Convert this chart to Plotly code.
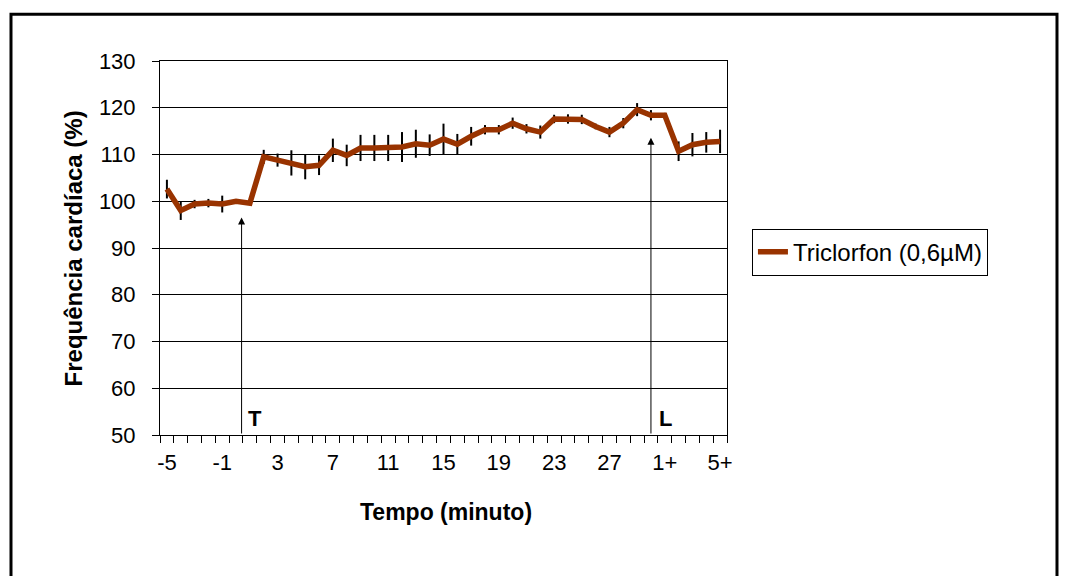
import plotly.graph_objects as go

categories = [str(i) for i in range(-5, 31)] + ["1+", "2+", "3+", "4+", "5+"]
heart_rate = [102.6, 98.0, 99.4, 99.6, 99.4, 100.0, 99.6, 109.5, 108.8, 108.2,
              107.4, 107.7, 110.9, 109.8, 111.4, 111.4, 111.4, 111.6, 112.3, 112.0,
              113.3, 112.2, 113.9, 115.3, 115.3, 116.7, 115.5, 114.8, 117.6, 117.6,
              117.5, 116.0, 114.8, 116.7, 119.6, 118.4, 118.4, 110.7, 112.1, 112.6, 112.8]
errors = [2.0, 2.0, 0.9, 0.9, 1.8, 0.3, 0.3, 1.5, 1.4, 2.7,
          2.7, 2.1, 2.5, 2.3, 2.8, 2.8, 2.8, 3.2, 3.0, 2.3,
          3.3, 2.2, 2.0, 1.0, 1.0, 1.2, 1.0, 1.4, 0.9, 1.0,
          1.0, 0.6, 1.1, 1.1, 1.4, 1.1, 0.5, 2.1, 2.5, 2.2, 2.5]
label_every = 4
y_ticks = list(range(50, 131, 10))
series_name = "Triclorfon (0,6µM)"

x_idx = list(range(len(categories)))
tick_idx = x_idx[::label_every]
tick_txt = [categories[i] for i in tick_idx]

FONT = "Liberation Sans, Arial, sans-serif"

fig = go.Figure()
fig.add_trace(go.Scatter(
    x=x_idx, y=heart_rate, mode="lines", name=series_name,
    line=dict(color="#993300", width=5.5),
    error_y=dict(type="data", array=errors, visible=True, color="black",
                 thickness=2, width=0),
))

# markers T and L
t_pos = categories.index("0") + 0.4
l_pos = categories.index("30")
arrows = [(t_pos, 96.5, "T", t_pos + 0.95), (l_pos, 113.6, "L", l_pos + 1.05)]
for xpos, tip, lab, lx in arrows:
    fig.add_annotation(x=xpos, y=tip, ax=xpos, ay=50, xref="x", yref="y",
                       axref="x", ayref="y", text="", showarrow=True,
                       arrowhead=2, arrowsize=1.4, arrowwidth=1, arrowcolor="black")
    fig.add_annotation(x=lx, y=53.6, xref="x", yref="y", text="<b>%s</b>" % lab,
                       showarrow=False, font=dict(family=FONT, size=22, color="black"))

fig.add_annotation(x=0.504, y=-0.246, xref="paper", yref="paper",
                   text="<b>Tempo (minuto)</b>", showarrow=False,
                   font=dict(family=FONT, size=23, color="black"))
fig.add_annotation(x=-0.18, y=0.5, xref="paper", yref="paper",
                   text="<b>Frequência cardíaca (%)</b>", showarrow=False, textangle=-90,
                   font=dict(family=FONT, size=24, color="black"))

fig.add_shape(type="rect", xref="paper", yref="paper",
              x0=-0.2628, x1=1.582, y0=-0.39, y1=1.1248,
              line=dict(color="black", width=3))

fig.update_layout(
    width=1067, height=576,
    margin=dict(l=152, r=348, t=53, b=149),
    paper_bgcolor="white", plot_bgcolor="white",
    font=dict(family=FONT, size=22, color="black"),
    showlegend=True,
    legend=dict(x=1.044, y=0.489, xanchor="left", yanchor="middle",
                bordercolor="black", borderwidth=1, bgcolor="white",
                font=dict(family=FONT, size=24, color="black")),
    xaxis=dict(range=[-0.5, len(categories) - 0.5], tickmode="array",
               tickvals=tick_idx, ticktext=tick_txt, ticks="",
               ticklabelstandoff=8,
               showgrid=False, zeroline=False, showline=True, linecolor="black",
               linewidth=1, mirror=True,
               minor=dict(ticks="outside", ticklen=7, tickcolor="black", tickwidth=1,
                          tick0=-0.5, dtick=1, showgrid=False),
               tickfont=dict(family=FONT, size=22, color="black")),
    yaxis=dict(range=[50, 130], tickmode="array", tickvals=y_ticks,
               ticks="outside", ticklen=7, tickcolor="black",
               ticklabelstandoff=12,
               showgrid=True, gridcolor="black", gridwidth=1,
               zeroline=False, showline=True, linecolor="black", linewidth=1, mirror=True,
               tickfont=dict(family=FONT, size=22, color="black")),
)

fig.write_html("out.html")
